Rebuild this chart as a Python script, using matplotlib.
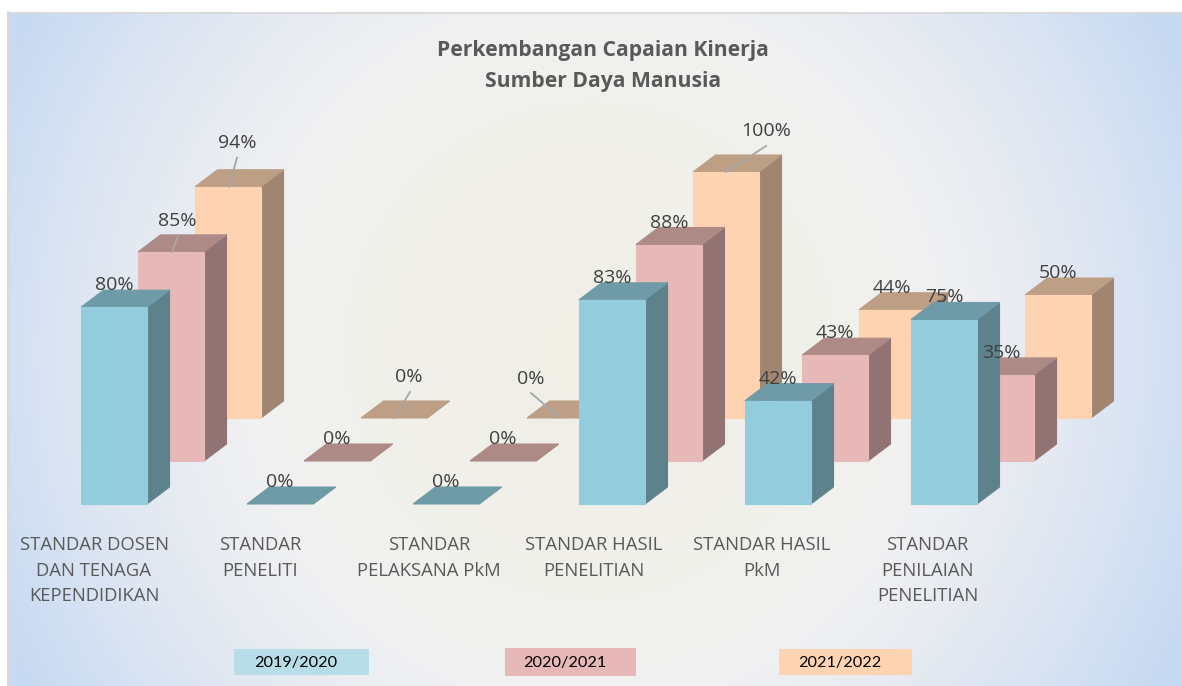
import numpy as np
import matplotlib
matplotlib.use("Agg")
import matplotlib.pyplot as plt
from matplotlib.colors import LinearSegmentedColormap
from matplotlib.patches import Polygon, Rectangle

# data
categories = ["STANDAR DOSEN\nDAN TENAGA\nKEPENDIDIKAN", "STANDAR\nPENELITI", "STANDAR\nPELAKSANA PkM",
              "STANDAR HASIL\nPENELITIAN", "STANDAR HASIL\nPkM", "STANDAR\nPENILAIAN\nPENELITIAN"]
years = ["2019/2020", "2020/2021", "2021/2022"]
values_2019 = [80, 0, 0, 83, 42, 75]
values_2020 = [85, 0, 0, 88, 43, 35]
values_2021 = [94, 0, 0, 100, 44, 50]
title = "Perkembangan Capaian Kinerja\nSumber Daya Manusia"

# faux 3d layout, everything in pixels of the reference
FONT = "Open Sans"
W, H = 1182, 686
X0, CAT_STEP = 81, 166
SERIES_DX, SERIES_DY = 57, 43
BASE_Y = 504
BAR_W = 66
DEPTH_X, DEPTH_Y = 22.5, 17
PX_PER_PCT = 2.46

series = [values_2019, values_2020, values_2021]
front_cols = ["#93ccdd", "#e6b8b7", "#fdd3b2"]
side_cols = ["#5e828c", "#927373", "#a08671"]
top_cols = ["#6f9ba8", "#ae8a87", "#bd9f85"]
legend_cols = ["#b7dde8", "#e6b8b7", "#fdd3b2"]
legend_boxes = [(234, 649, 135, 26), (505, 648, 131, 28), (779, 649, 133, 26)]
cat_centers = [94, 260, 429, 593.5, 762, 927.5]

# label position relative to front top-left corner: (series, category) -> dx, dy
label_default = (33, -22)
label_moved = {(1, 0): (39, -31), (2, 0): (42, -44), (2, 3): (73, -41),
               (2, 1): (48, -41), (2, 2): (4, -39)}
# leader lines: start relative to front top-left corner, end relative to label centre
leaders = {(1, 0): ((34, 0), (1, 15)), (2, 0): ((34, 0), (0, 15)), (2, 3): ((33, 0), (0, 15)),
           (2, 1): ((33, 0), (1, 15)), (2, 2): ((33, 0), (0, 14))}


def background():
    stops = [(0.0, "#f0efe6"), (0.32, "#f0f0ea"), (0.52, "#f1f1f1"), (0.75, "#e2e8f2"), (1.0, "#c8daf2")]
    cmap = LinearSegmentedColormap.from_list("bg", stops)
    xx, yy = np.meshgrid(np.arange(8, W), np.arange(13, H))
    r = np.sqrt(((xx - 590) / 590.0) ** 2 + ((yy - 350) / 600.0) ** 2) / 1.1
    return cmap(np.clip(r, 0, 1))


def draw_bar(ax, left, base, val, k):
    top = base - val * PX_PER_PCT
    right = left + BAR_W
    edge = dict(linewidth=0.8, joinstyle="miter")
    ax.add_patch(Polygon([(right, base), (right + DEPTH_X, base - DEPTH_Y), (right + DEPTH_X, top - DEPTH_Y), (right, top)],
                         facecolor=side_cols[k], edgecolor=side_cols[k], zorder=3 + (2 - k), **edge))
    ax.add_patch(Polygon([(left, top), (left + DEPTH_X, top - DEPTH_Y), (right + DEPTH_X, top - DEPTH_Y), (right, top)],
                         facecolor=top_cols[k], edgecolor=top_cols[k], zorder=3 + (2 - k), **edge))
    if val > 0:
        ax.add_patch(Rectangle((left, top), BAR_W, base - top, facecolor=front_cols[k],
                               edgecolor=front_cols[k], zorder=3 + (2 - k), **edge))
    return top


fig = plt.figure(figsize=(W / 100, H / 100), dpi=100, facecolor="white")
ax = fig.add_axes([0, 0, 1, 1])
ax.imshow(background(), extent=(8, W, H, 13), aspect="auto", zorder=0, interpolation="bilinear")
ax.set_xlim(0, W)
ax.set_ylim(H, 0)
ax.axis("off")

# chart border, only top and left show
ax.plot([8, W], [12.5, 12.5], color="#d9d9d9", lw=1.4, zorder=1)
ax.plot([8, 8], [12, H], color="#d9d9d9", lw=1.4, zorder=1)

ax.text(603, 66, title, ha="center", va="center", fontsize=15.2, fontweight="bold", color="#595959",
        family=FONT, linespacing=1.68, zorder=8)

# back row first so the front rows cover it
for k in [2, 1, 0]:
    base = BASE_Y - k * SERIES_DY
    for i, val in enumerate(series[k]):
        left = X0 + i * CAT_STEP + k * SERIES_DX
        top = draw_bar(ax, left, base, val, k)
        dx, dy = label_moved.get((k, i), label_default)
        lx, ly = left + dx, top + dy
        if (k, i) in leaders:
            (sx, sy), (ex, ey) = leaders[(k, i)]
            ax.plot([left + sx, lx + ex], [top + sy, ly + ey], color="#a6a6a6", lw=1.3, zorder=7)
        ax.text(lx, ly, f"{val}%", ha="center", va="center", fontsize=14, color="#404040", family=FONT, zorder=8)

# category labels
for cx, cat in zip(cat_centers, categories):
    ax.text(cx, 536, cat, ha="center", va="top", fontsize=13.3, color="#595959",
            family=FONT, linespacing=1.55, zorder=8)

# legend is just boxes with text
for (x, y, w, h), col, year in zip(legend_boxes, legend_cols, years):
    ax.add_patch(Rectangle((x, y), w, h, facecolor=col, edgecolor="none", zorder=5))
    ax.text(x + w / 2 - 6, y + h / 2 + 0.5, year, ha="center", va="center", fontsize=11.7, color="#000000",
            family="Lato", zorder=8)

fig.savefig("out.png", dpi=100, facecolor="white")
